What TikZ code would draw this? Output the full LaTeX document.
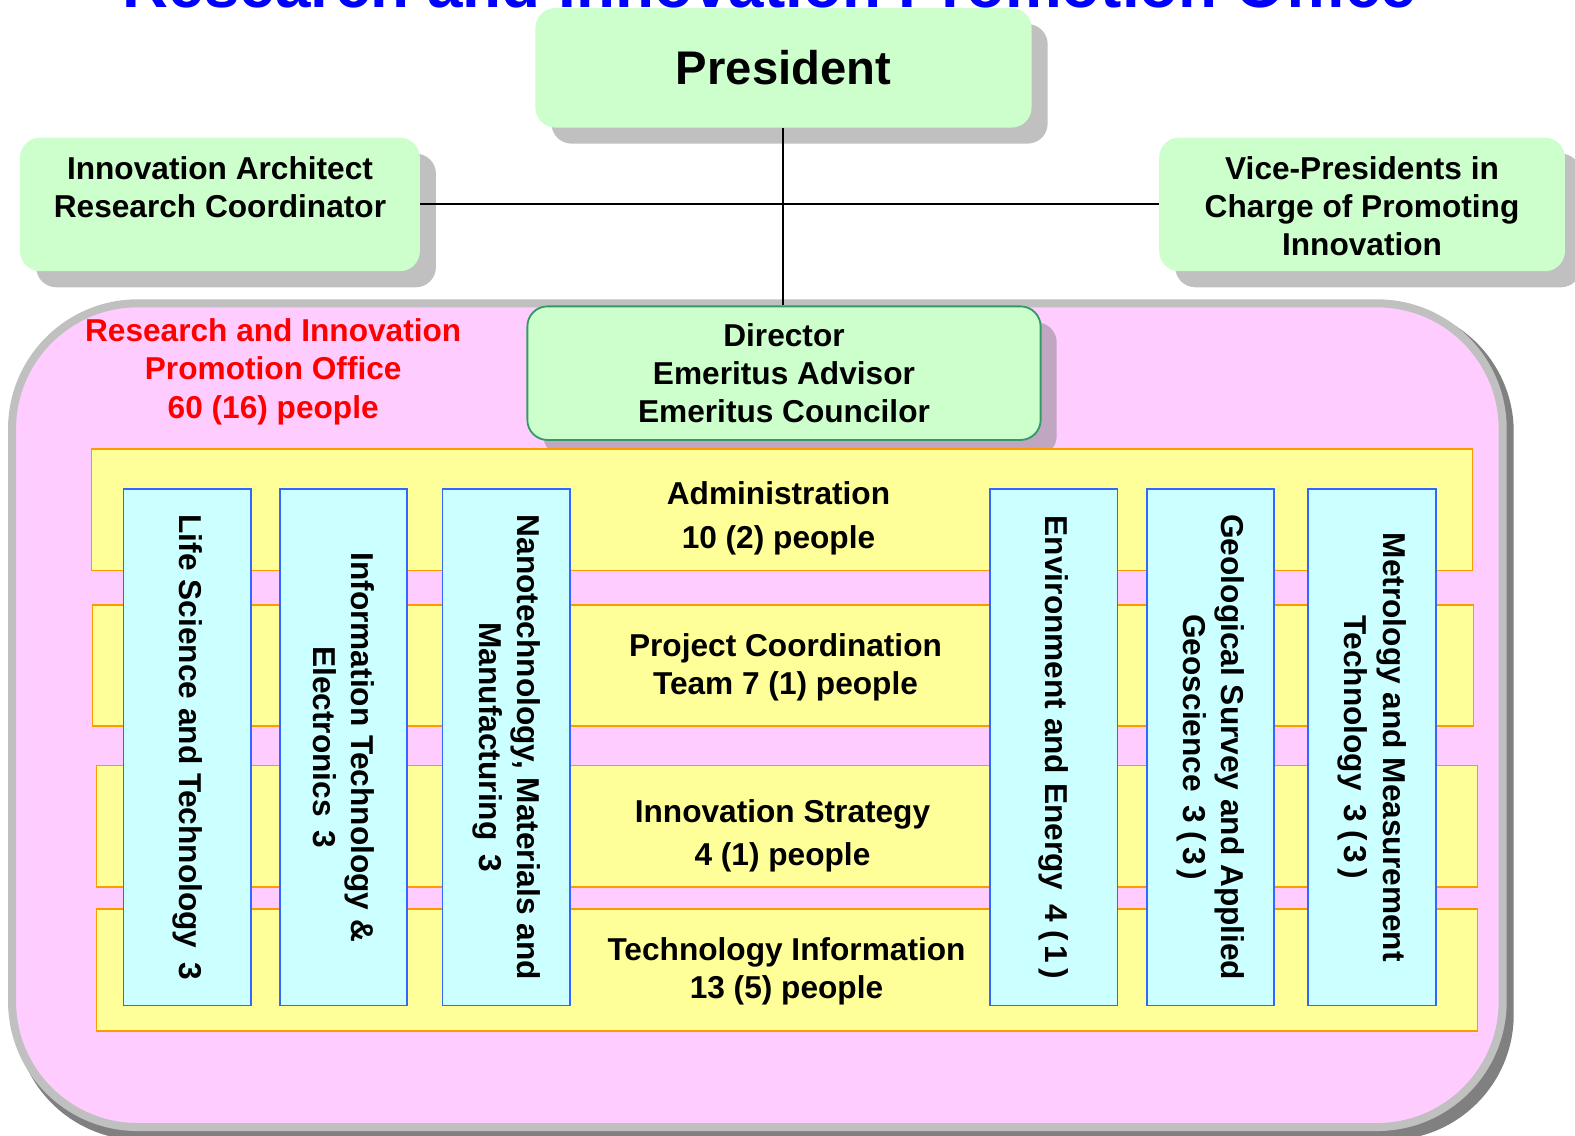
\documentclass[tikz,border=0pt]{standalone}
\usepackage{fontspec}
\setmainfont{Liberation Sans}
\usetikzlibrary{shadows}

\definecolor{shadowgray}{HTML}{C0C0C0}
\definecolor{shadowdark}{HTML}{808080}
\definecolor{pinkfill}{HTML}{FFCCFF}
\definecolor{greenfill}{HTML}{CCFFCC}
\definecolor{greenline}{HTML}{339966}
\definecolor{yellowfill}{HTML}{FFFF99}
\definecolor{orangeline}{HTML}{FF9900}
\definecolor{cyanfill}{HTML}{CCFFFF}
\definecolor{blueline}{HTML}{3366FF}
\definecolor{titleblue}{HTML}{0000FF}
\definecolor{officered}{HTML}{FF0000}
\definecolor{dirshadow}{HTML}{C0A6C0}

\begin{document}
\begin{tikzpicture}[x=1pt,y=-1pt,
  txt/.style={font=\fontsize{31.5}{38}\selectfont\bfseries, align=center, inner sep=0pt},
  greenbox/.style={fill=greenfill, draw=none, rounded corners=20pt,
    drop shadow={shadow xshift=16pt, shadow yshift=-16pt, fill=shadowgray, opacity=1}},
  dirbox/.style={fill=greenfill, draw=greenline, line width=1.8pt, rounded corners=20pt,
    drop shadow={shadow xshift=16pt, shadow yshift=-16pt, fill=dirshadow, opacity=1}},
  bar/.style={fill=yellowfill, draw=orangeline, line width=1.8pt, minimum width=1375pt,
    minimum height=121pt, inner sep=0pt},
  unit/.style={fill=cyanfill, draw=blueline, line width=1.8pt, rotate=-90,
    minimum width=514pt, minimum height=127pt, inner sep=0pt, txt},
  link/.style={draw=black, line width=2pt}
]
\useasboundingbox (0,0) rectangle (1568,1130);

% heading, mostly above the page edge
\node[anchor=base, inner sep=0pt, text=titleblue,
  font=\fontsize{63.5}{70}\selectfont\bfseries] (heading) at (766,7)
  {Research and Innovation Promotion Office};

% office frame with its shadow
\fill[shadowdark, rounded corners=125pt] (15,305) rectangle (1507,1135);
\draw[fill=pinkfill, draw=shadowgray, line width=8pt, rounded corners=125pt]
  (12,302) rectangle (1496,1122);
\coordinate (officetop) at (780,302);

% top level
\node[greenbox, minimum width=494pt, minimum height=119pt, inner sep=0pt,
  font=\fontsize{47}{52}\selectfont\bfseries] (pres) at (780,67.5) {President};
\node[greenbox, minimum width=398pt, minimum height=133pt, inner sep=0pt] (arch) at (219,203.5) {};
\node[txt] (archtext) at (219,186) {Innovation Architect\\Research Coordinator};
\node[greenbox, minimum width=404pt, minimum height=133pt, inner sep=0pt] (vice) at (1356,203.5) {};
\node[txt] (vicetext) at (1356,205) {Vice-Presidents in\\Charge of Promoting\\Innovation};

% office title
\node[txt, text=officered] (office) at (272,370)
  {Research and Innovation\\Promotion Office\\60 (16) people};

% director
\node[dirbox, minimum width=511pt, minimum height=133pt, inner sep=0pt, txt] (dir) at (780.5,371.5)
  {Director\\Emeritus Advisor\\Emeritus Councilor};

% connectors
\draw[link] (pres.south) -- (pres.south |- dir.north);
\draw[link] (arch.east) -- (vice.west);

% sections
\node[bar] (bar1) at (778.5,507.5) {};
\node[bar] (bar2) at (779.5,662.5) {};
\node[bar] (bar3) at (783.5,822.5) {};
\node[bar] (bar4) at (783.5,965.5) {};

\node[txt, font=\fontsize{31.5}{43}\selectfont\bfseries] (adm) at (775,516)
  {Administration\\10 (2) people};
\node[txt] (pcteam) at (782,664) {Project Coordination\\Team 7 (1) people};
\node[txt, font=\fontsize{31.5}{42}\selectfont\bfseries] (strat) at (779,832)
  {Innovation Strategy\\4 (1) people};
\node[txt] (techinfo) at (783,967) {Technology Information\\13 (5) people};

% research units
\node[unit] (u1) at (186.5,744) {Life Science and Technology\hspace{14pt}3};
\node[unit] (u2) at (342,744) {Information Technology \&\\Electronics\hspace{14pt}3};
\node[unit] (u3) at (504,744) {Nanotechnology, Materials and\\Manufacturing\hspace{14pt}3};
\node[unit] (u4) at (1049,744) {Environment and Energy\hspace{14pt}4\hspace{8pt}(\hspace{5pt}1\hspace{5pt})};
\node[unit] (u5) at (1205,744) {Geological Survey and Applied\\Geoscience\hspace{14pt}3\hspace{8pt}(\hspace{5pt}3\hspace{5pt})};
\node[unit] (u6) at (1366,744) {Metrology and Measurement\\Technology\hspace{14pt}3\hspace{8pt}(\hspace{5pt}3\hspace{5pt})};
\end{tikzpicture}
\end{document}
